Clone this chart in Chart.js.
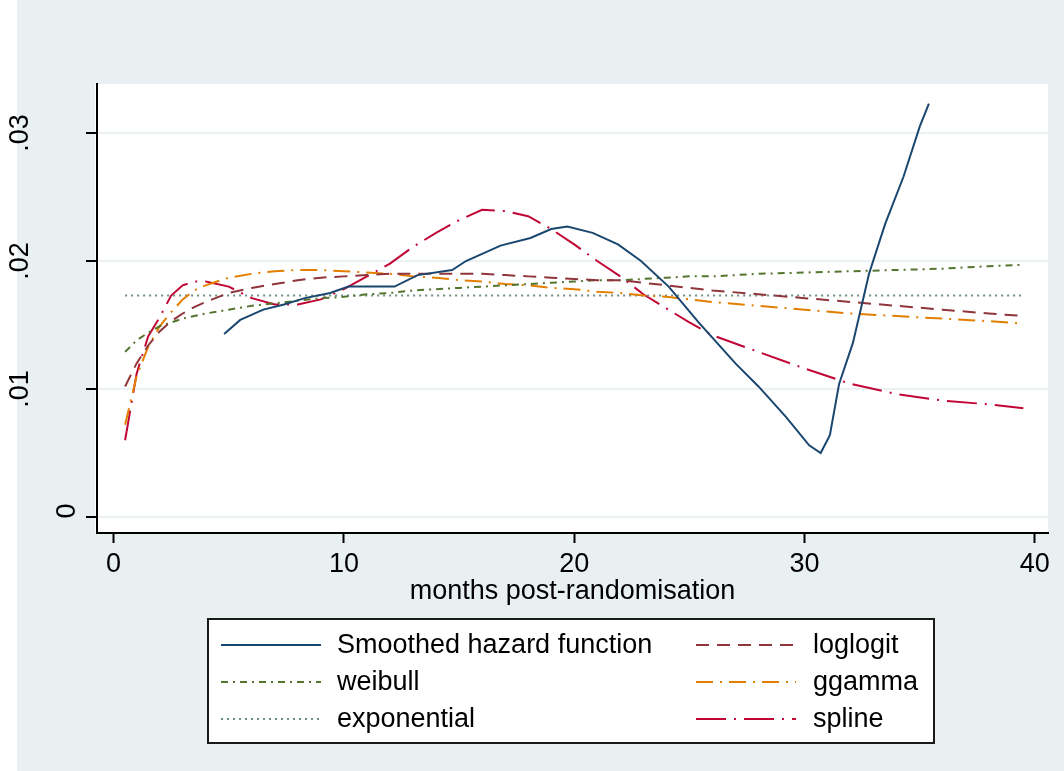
<!DOCTYPE html>
<html lang="en">
<head>
    <meta charset="UTF-8">
    <title>Hazard functions</title>
    <script src="https://cdn.jsdelivr.net/npm/chart.js"></script>
    <style>
        html, body { margin: 0; padding: 0; background: #fff; }
        #wrap { width: 1064px; height: 771px; }
    </style>
</head>
<body>
    <div id="wrap"><canvas id="hazChart" width="1064" height="771"></canvas></div>

    <script>
        // months post-randomisation (grid for the parametric fits)
        const months = [0.5, 1, 1.5, 2, 2.5, 3, 3.5, 4, 5, 6, 7, 8, 9, 10, 11, 12, 13, 14, 15, 16, 17, 18, 19, 20,
                        21, 22, 23, 24, 25, 26, 28, 30, 32, 34, 36, 38, 39.5];

        const weibull  = [0.0129, 0.0138, 0.0144, 0.0149, 0.0152, 0.0155, 0.0157, 0.0159, 0.0162, 0.0165, 0.0167, 0.0169,
                          0.0171, 0.0172, 0.0174, 0.0175, 0.0177, 0.0178, 0.0179, 0.0180, 0.0181, 0.0182, 0.0183, 0.0184,
                          0.0185, 0.0185, 0.0186, 0.0187, 0.0188, 0.0188, 0.0190, 0.0191, 0.0192, 0.0193, 0.0194, 0.0196, 0.0197];
        const loglogit = [0.0102, 0.0120, 0.0134, 0.0145, 0.0153, 0.0159, 0.0164, 0.0168, 0.0175, 0.0179, 0.0182, 0.0185,
                          0.0187, 0.0188, 0.0189, 0.0190, 0.0190, 0.0190, 0.0190, 0.0190, 0.0189, 0.0188, 0.0187, 0.0186,
                          0.0185, 0.0185, 0.0183, 0.0181, 0.0179, 0.0177, 0.0174, 0.0171, 0.0168, 0.0165, 0.0162, 0.0159, 0.0157];
        const ggamma   = [0.0072, 0.0110, 0.0133, 0.0149, 0.0160, 0.0170, 0.0177, 0.0181, 0.0187, 0.0190, 0.0192, 0.0193,
                          0.0193, 0.0192, 0.0191, 0.0190, 0.0188, 0.0187, 0.0185, 0.0184, 0.0182, 0.0181, 0.0179, 0.0178,
                          0.0176, 0.0175, 0.0173, 0.0172, 0.0170, 0.0168, 0.0165, 0.0162, 0.0159, 0.0157, 0.0155, 0.0153, 0.0151];
        const spline   = [0.0060, 0.0112, 0.0141, 0.0156, 0.0173, 0.0181, 0.0184, 0.0184, 0.0180, 0.0171, 0.0166, 0.0166,
                          0.0170, 0.0178, 0.0188, 0.0198, 0.0211, 0.0222, 0.0232, 0.0240, 0.0239, 0.0235, 0.0225, 0.0213,
                          0.0200, 0.0188, 0.0174, 0.0163, 0.0152, 0.0142, 0.0129, 0.0116, 0.0104, 0.0096, 0.0091, 0.0088, 0.0085];

        // exponential fit is flat
        const expMonths = [0.5, 39.5];
        const exponential = [0.0173, 0.0173];

        // kernel-smoothed hazard
        const smoothMonths = [4.8, 5.5, 6.5, 7.4, 8.3, 9.4, 10.2, 12.2, 13.2, 14.7, 15.3, 16.8, 18.1, 19.0, 19.7, 20.8,
                              21.9, 22.9, 24.1, 25.4, 27.0, 28.0, 29.2, 30.2, 30.7, 31.1, 31.5, 32.1, 32.8, 33.5, 34.3, 35.0, 35.4];
        const smoothed = [0.0143, 0.0154, 0.0162, 0.0166, 0.0171, 0.0175, 0.0180, 0.0180, 0.0189, 0.0193, 0.0200, 0.0212,
                          0.0218, 0.0225, 0.0227, 0.0222, 0.0213, 0.0200, 0.0180, 0.0152, 0.0120, 0.0102, 0.0078, 0.0056,
                          0.0050, 0.0064, 0.0104, 0.0136, 0.0190, 0.0229, 0.0266, 0.0305, 0.0323];

        const xTicks = [0, 10, 20, 30, 40];
        const yTicks = [0, 0.01, 0.02, 0.03];
        const yTickLabels = ["0", ".01", ".02", ".03"];
        const xTitle = "months post-randomisation";

        const FONT = "'Liberation Sans', Arial, sans-serif";
        const FSIZE = 27;
        const BG = "#E8F0F2";

        function pts(xs, ys) {
            return xs.map((x, i) => ({ x: x, y: ys[i] }));
        }

        // legend order is row-wise: left column then right column
        const datasets = [
            { label: "Smoothed hazard function", data: pts(smoothMonths, smoothed), borderColor: "#1A476F", borderDash: [] },
            { label: "loglogit", data: pts(months, loglogit), borderColor: "#90353B", borderDash: [13, 8] },
            { label: "weibull", data: pts(months, weibull), borderColor: "#55752F", borderDash: [7, 5, 2, 5] },
            { label: "ggamma", data: pts(months, ggamma), borderColor: "#E37E00", borderDash: [17, 7, 2, 7] },
            { label: "exponential", data: pts(expMonths, exponential), borderColor: "#6E8E84", borderDash: [2, 4] },
            { label: "spline", data: pts(months, spline), borderColor: "#C10534", borderDash: [30, 8, 2, 8] }
        ].map(d => Object.assign(d, { borderWidth: 2, pointRadius: 0, tension: 0, fill: false, borderCapStyle: "butt" }));

        const backdrop = {
            id: "backdrop",
            beforeDraw(chart) {
                const c = chart.ctx, a = chart.chartArea;
                c.save();
                c.fillStyle = "#fff";
                c.fillRect(0, 0, chart.width, chart.height);
                c.fillStyle = BG;
                c.fillRect(17, 0, chart.width - 17, chart.height);
                c.fillStyle = "#fff";
                c.fillRect(a.left - 2, a.top, a.right - a.left + 2, a.bottom - a.top);
                c.restore();
            }
        };

        // vertical y labels, x title and the boxed two-column legend
        const labelsAndKey = {
            id: "labelsAndKey",
            afterDraw(chart) {
                const c = chart.ctx, ys = chart.scales.y, a = chart.chartArea;
                c.save();
                c.fillStyle = "#000";
                c.font = FSIZE + "px " + FONT;

                yTicks.forEach((v, i) => {
                    const lab = yTickLabels[i];
                    const bx = lab === "0" ? 75 : 28;
                    const py = ys.getPixelForValue(v) + (lab === "0" ? -6 : 0);
                    c.save();
                    c.translate(bx, py);
                    c.rotate(-Math.PI / 2);
                    c.textAlign = "center";
                    c.textBaseline = "alphabetic";
                    c.fillText(lab, 0, 0);
                    c.restore();
                });

                c.textAlign = "center";
                c.textBaseline = "alphabetic";
                c.fillText(xTitle, (a.left + a.right) / 2, 599);

                // legend box
                c.fillStyle = "#fff";
                c.fillRect(208, 619, 726, 124);
                c.strokeStyle = "#1a1a1a";
                c.lineWidth = 2;
                c.strokeRect(208, 619, 726, 124);

                const cols = [{ lx: 221, tx: 337 }, { lx: 696, tx: 813 }];
                const rows = [645, 682, 719];
                chart.data.datasets.forEach((ds, i) => {
                    const col = cols[i % 2], y = rows[Math.floor(i / 2)];
                    c.beginPath();
                    c.setLineDash(ds.borderDash);
                    c.strokeStyle = ds.borderColor;
                    c.lineWidth = 2;
                    c.moveTo(col.lx, y);
                    c.lineTo(col.lx + 100, y);
                    c.stroke();
                    c.setLineDash([]);
                    c.fillStyle = "#000";
                    c.textAlign = "left";
                    c.textBaseline = "middle";
                    c.fillText(ds.label, col.tx, y + 1);
                });
                c.restore();
            }
        };

        new Chart(document.getElementById("hazChart"), {
            type: "line",
            data: { datasets: datasets },
            options: {
                responsive: false,
                animation: false,
                events: [],
                layout: { padding: { top: 84, right: 16, left: 0, bottom: 0 } },
                plugins: { legend: { display: false }, tooltip: { enabled: false } },
                scales: {
                    x: {
                        type: "linear",
                        min: -0.72,
                        max: 40.57,
                        afterBuildTicks: s => { s.ticks = xTicks.map(v => ({ value: v })); },
                        afterFit: s => { s.height = 238; },
                        ticks: { color: "#000", font: { family: FONT, size: FSIZE }, padding: 5, maxRotation: 0 },
                        grid: { drawOnChartArea: false, tickLength: 10, tickColor: "#000", tickWidth: 2 },
                        border: { color: "#000", width: 2 }
                    },
                    y: {
                        type: "linear",
                        min: -0.00125,
                        max: 0.03383,
                        afterBuildTicks: s => { s.ticks = yTicks.map(v => ({ value: v })); },
                        afterFit: s => { s.width = 97; },
                        ticks: { display: false },
                        grid: { color: "#EAF2F3", lineWidth: 2, tickLength: 11, tickColor: "#000", tickWidth: 2 },
                        border: { color: "#000", width: 2 }
                    }
                }
            },
            plugins: [backdrop, labelsAndKey]
        });
    </script>
</body>
</html>
